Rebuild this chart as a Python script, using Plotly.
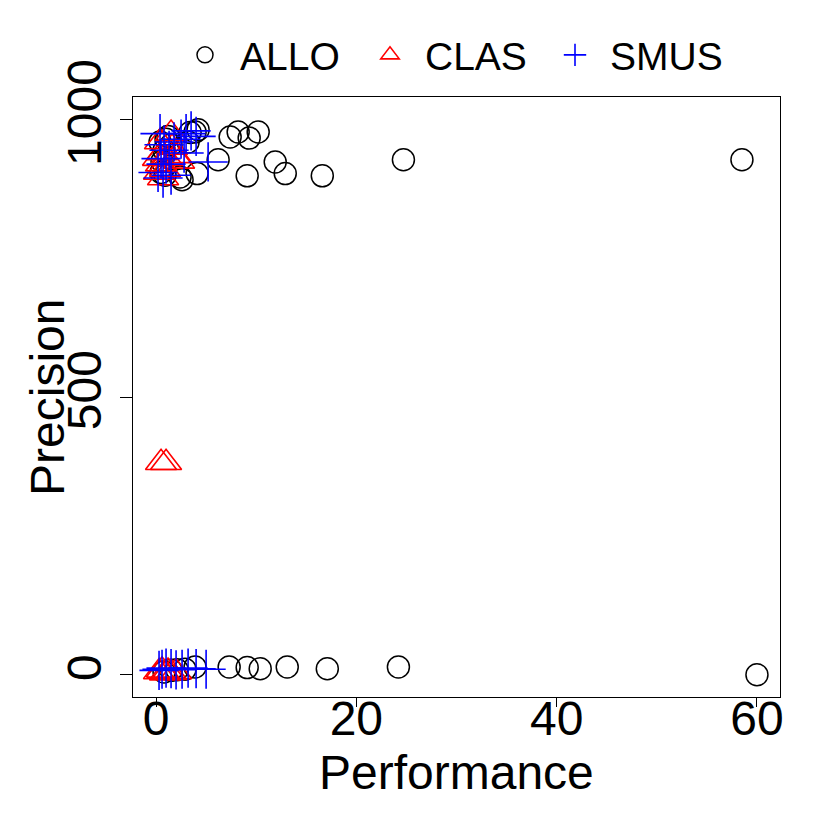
import plotly.graph_objects as go

# ALLO (circles)
allo_x = [0.5, 0.6, 0.8, 1.0, 1.2, 0.4, 0.9, 1.5, 2.4, 2.6, 3.2, 3.4, 3.9, 4.2, 4.1,
          7.4, 8.2, 9.3, 10.2, 6.2, 11.9, 12.9, 9.1, 16.6, 24.7, 58.5,
          0.8, 1.5, 2.1, 2.9, 3.9, 7.3, 9.1, 10.4, 13.1, 17.1, 24.2, 60.0]
allo_y = [905, 925, 945, 965, 970, 960, 900, 955, 897, 892, 960, 977, 978, 982, 903,
          969, 978, 967, 978, 928, 924, 903, 899, 899, 928, 928,
          5, 8, 9, 10, 14, 14, 13, 11, 14, 11, 14, 0]

# CLAS (triangles)
clas_x = [0.3, 0.5, 0.6, 0.4, 0.9, 1.1, 1.5, 1.6, 2.0, 2.3, 0.7, 0.2,
          0.5, 1.0,
          0.3, 0.6, 0.9, 1.2, 1.5, 2.0]
clas_y = [905, 920, 940, 960, 910, 930, 975, 950, 935, 925, 895, 930,
          382, 382,
          5, 8, 3, 6, 4, 5]

# SMUS (plus)
smus_x = [0.2, 0.5, 0.8, 1.0, 1.3, 0.4, 1.8, 2.5, 3.0, 3.5, 4.0, 2.8, 5.2, 0.7, 1.5,
          0.3, 0.6, 1.0, 1.5, 2.0, 2.6, 3.2, 4.0, 5.0]
smus_y = [905, 930, 955, 920, 945, 975, 960, 965, 975, 980, 970, 940, 924, 895, 900,
          8, 10, 12, 11, 9, 10, 12, 11, 10]

x_ticks = [0, 20, 40, 60]
y_ticks = [0, 500, 1000]

FONT = "Liberation Sans, Arial, sans-serif"
OFF = 8  # page body margin offset

fig = go.Figure()
fig.add_trace(go.Scatter(x=allo_x, y=allo_y, mode="markers", name="ALLO",
                         marker=dict(symbol="circle-open", size=22, color="black",
                                     line=dict(width=1.5, color="black"))))
fig.add_trace(go.Scatter(x=clas_x, y=clas_y, mode="markers", name="CLAS",
                         marker=dict(symbol="triangle-up-open", size=27, color="red",
                                     line=dict(width=1.6, color="red"))))
fig.add_trace(go.Scatter(x=smus_x, y=smus_y, mode="markers", name="SMUS",
                         marker=dict(symbol="cross-thin-open", size=28, color="blue",
                                     line=dict(width=1.6, color="blue"))))

fig.update_layout(
    width=830, height=830,
    margin=dict(l=133 - OFF, r=58, t=97 - OFF, b=141, autoexpand=False),
    plot_bgcolor="white", paper_bgcolor="white",
    font=dict(family=FONT, size=48, color="black"),
    showlegend=True,
    legend=dict(orientation="h", xref="container", yref="container",
                x=(170 - OFF) / 830, xanchor="left", y=1 - (55 - OFF) / 830,
                yanchor="middle",
                font=dict(size=39), itemsizing="trace", itemwidth=60,
                entrywidth=110, entrywidthmode="pixels",
                bgcolor="rgba(0,0,0,0)", borderwidth=0),
    annotations=[
        dict(text="Performance", xref="paper", yref="paper", x=0.5, y=-0.125,
             xanchor="center", yanchor="middle", showarrow=False,
             font=dict(size=48)),
        dict(text="Precision", xref="paper", yref="paper", x=-0.133, y=0.5,
             xanchor="center", yanchor="middle", showarrow=False, textangle=-90,
             font=dict(size=48)),
    ],
)

fig.update_xaxes(range=[-2.3, 62.3], tickvals=x_ticks, ticks="outside", ticklen=9,
                 tickwidth=1, tickcolor="black", showline=True, linecolor="black",
                 linewidth=1, mirror=True, showgrid=False, zeroline=False,
                 automargin=False, ticklabelstandoff=-30,
                 tickfont=dict(size=48))
fig.update_yaxes(range=[-40, 1041], tickvals=y_ticks, ticks="outside", ticklen=12,
                 tickwidth=1, tickcolor="black", showline=True, linecolor="black",
                 linewidth=1, mirror=True, showgrid=False, zeroline=False,
                 automargin=False, tickangle=-90, ticklabelstandoff=0,
                 tickfont=dict(size=48))

fig.write_html("out.html")
